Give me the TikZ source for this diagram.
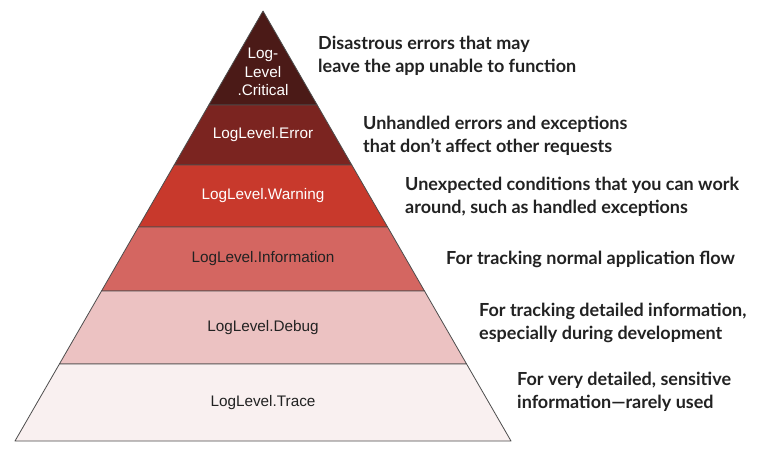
\documentclass[tikz,border=0pt]{standalone}
\usepackage{fontspec}
\setmainfont{Liberation Sans}
\newfontfamily\descfont{Lato}
\usetikzlibrary{calc}
\definecolor{critical}{HTML}{4b1a17}
\definecolor{error}{HTML}{7b2420}
\definecolor{warning}{HTML}{c8392c}
\definecolor{information}{HTML}{d46661}
\definecolor{debug}{HTML}{ecc2c2}
\definecolor{trace}{HTML}{f9f0f0}
\definecolor{outline}{HTML}{4d4d4d}
\definecolor{ink}{HTML}{222222}

\tikzset{
  band/.style={draw=outline, line width=0.8pt, line join=round},
  level/.style={inner sep=0pt, align=center, font=\fontsize{15.3}{18.5}\selectfont},
  desc/.style={anchor=west, inner sep=0pt, align=left, text=ink,
    font=\descfont\bfseries\fontsize{18}{23}\selectfont}
}

\begin{document}
\begin{tikzpicture}[x=1pt, y=-1pt]

  \useasboundingbox (0, 0) rectangle (765, 451);

  \fill[white] (0, 0) rectangle (765, 451);

  \filldraw[band, fill=critical] (263, 11) -- (317.2, 105) -- (208.8, 105) -- cycle;
  \filldraw[band, fill=error] (208.8, 105) -- (317.2, 105) -- (351.8, 165) -- (174.2, 165) -- cycle;
  \filldraw[band, fill=warning] (174.2, 165) -- (351.8, 165) -- (387.6, 227) -- (138.4, 227) -- cycle;
  \filldraw[band, fill=information] (138.4, 227) -- (387.6, 227) -- (424.5, 291) -- (101.5, 291) -- cycle;
  \filldraw[band, fill=debug] (101.5, 291) -- (424.5, 291) -- (466.6, 364) -- (59.4, 364) -- cycle;
  \filldraw[band, fill=trace] (59.4, 364) -- (466.6, 364) -- (511, 441) -- (15, 441) -- cycle;

  \node[level, text=white] (critical) at (263, 72) {Log-\\Level\\.Critical};
  \node[level, text=white] (error) at (263, 135) {LogLevel.Error};
  \node[level, text=white] (warning) at (263, 196) {LogLevel.Warning};
  \node[level, text=ink] (information) at (263, 259) {LogLevel.Information};
  \node[level, text=ink] (debug) at (263, 328) {LogLevel.Debug};
  \node[level, text=ink] (trace) at (263, 403) {LogLevel.Trace};

  \node[desc] (criticaldesc) at (318, 56) {Disastrous errors that may\\leave the app unable to function};
  \node[desc] (errordesc) at (363, 136) {Unhandled errors and exceptions\\that don’t affect other requests};
  \node[desc] (warningdesc) at (405, 197) {Unexpected conditions that you can work\\around, such as handled exceptions};
  \node[desc] (informationdesc) at (446, 259) {For tracking normal application flow};
  \node[desc] (debugdesc) at (479, 323) {For tracking detailed information,\\especially during development};
  \node[desc] (tracedesc) at (517, 392) {For very detailed, sensitive\\information—rarely used};

\end{tikzpicture}
\end{document}
